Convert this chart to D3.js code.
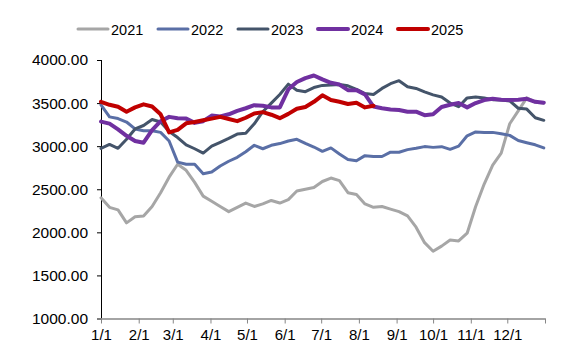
<!DOCTYPE html>
<html>
<head>
<meta charset="utf-8">
<script src="https://cdn.jsdelivr.net/npm/d3@7"></script>
<style>
  body { margin: 0; background: #fff; }
  text { font-family: "Liberation Sans", Arial, sans-serif; fill: #000; }
</style>
</head>
<body>
<div id="chart"></div>
<script>
// vaste afmetingen
const width = 567
const height = 351
const margin = {top: 60, right: 22, bottom: 32.5, left: 101}

// dag van het jaar voor elk weekpunt
const days = d3.range(0, 365, 7)

// maandgrenzen en labels
const monthStarts = [0, 31, 59, 90, 120, 151, 181, 212, 243, 273, 304, 334, 365]
const monthLabels = ["1/1", "2/1", "3/1", "4/1", "5/1", "6/1", "7/1", "8/1", "9/1", "10/1", "11/1", "12/1"]

const yTicks = [1000, 1500, 2000, 2500, 3000, 3500, 4000]

const years = ["2021", "2022", "2023", "2024", "2025"]
const colors = ["#a6a6a6", "#5a6fa6", "#44546a", "#7030a0", "#c00000"]
const widths = [3, 3, 3, 4, 4]

const v2021 = [2400, 2290, 2260, 2110, 2180, 2190, 2300, 2460, 2640, 2790, 2720, 2580, 2420, 2360,
  2300, 2240, 2290, 2340, 2300, 2330, 2370, 2340, 2380, 2480, 2500, 2520, 2590, 2630, 2600, 2460,
  2440, 2330, 2290, 2300, 2270, 2240, 2190, 2060, 1880, 1780, 1840, 1910, 1900, 1990, 2300, 2560,
  2780, 2920, 3260, 3410, 3560, 3510, 3500]

const v2022 = [3480, 3340, 3320, 3280, 3200, 3180, 3180, 3160, 3060, 2815, 2790, 2790, 2680, 2700,
  2770, 2825, 2870, 2935, 3010, 2970, 3010, 3030, 3060, 3080, 3033, 2990, 2940, 2980, 2910, 2845,
  2830, 2890, 2880, 2880, 2930, 2930, 2960, 2975, 2995, 2986, 2994, 2963, 3000, 3120, 3165, 3160,
  3160, 3145, 3125, 3065, 3040, 3016, 2980]

const v2023 = [2975, 3020, 2975, 3080, 3200, 3240, 3310, 3280, 3170, 3100, 3014, 2970, 2920, 3000,
  3045, 3090, 3140, 3150, 3260, 3400, 3500, 3600, 3720, 3650, 3632, 3680, 3705, 3710, 3715, 3700,
  3660, 3610, 3600, 3670, 3725, 3760, 3690, 3670, 3630, 3595, 3570, 3500, 3458, 3560, 3570, 3560,
  3540, 3536, 3525, 3440, 3430, 3330, 3300]

const v2024 = [3285, 3262, 3195, 3120, 3060, 3040, 3185, 3290, 3340, 3325, 3320, 3270, 3290, 3355,
  3345, 3370, 3410, 3440, 3475, 3470, 3450, 3450, 3660, 3745, 3790, 3820, 3775, 3735, 3715, 3650,
  3650, 3600, 3460, 3440, 3425, 3420, 3400, 3400, 3360, 3370, 3455, 3480, 3500, 3450, 3500, 3535,
  3550, 3540, 3535, 3540, 3550, 3515, 3505]

// 2025 loopt tot half augustus
const v2025 = [3515, 3480, 3458, 3400, 3450, 3485, 3460, 3370, 3160, 3190, 3265, 3280, 3300, 3320,
  3340, 3315, 3290, 3330, 3380, 3395, 3365, 3325, 3375, 3435, 3455, 3515, 3590, 3535, 3515, 3490,
  3505, 3450, 3470]

const series = [v2021, v2022, v2023, v2024, v2025]

// schalen
var xScale = d3.scaleLinear()
    .domain([0, 365])
    .range([margin.left, width - margin.right])

var yScale = d3.scaleLinear()
    .domain([1000, 4000])
    .range([height - margin.bottom, margin.top])

var svg = d3.select("#chart")
  .append("svg")
    .attr("width", width)
    .attr("height", height)

// y-as
var yAxis = svg.append("g")
    .attr("class", "y-axis")
    .attr("transform", "translate(" + margin.left + ",0)")
    .call(d3.axisLeft(yScale)
      .tickValues(yTicks)
      .tickSize(4)
      .tickPadding(9)
      .tickFormat(d3.format(".2f")))

yAxis.select(".domain").attr("stroke", "#000").attr("d", "M0.5," + yScale(4000) + "V" + yScale(1000))
yAxis.selectAll(".tick line").attr("stroke", "#000")
yAxis.selectAll("text").style("font-size", "15.5px")

// x-as
var xAxis = svg.append("g")
    .attr("class", "x-axis")
    .attr("transform", "translate(0," + yScale(1000) + ")")
    .call(d3.axisBottom(xScale)
      .tickValues(monthStarts)
      .tickSize(5)
      .tickSizeOuter(0)
      .tickPadding(6)
      .tickFormat(function(d, i) { return monthLabels[i] || ""; }))

xAxis.select(".domain").attr("stroke", "#868686").attr("stroke-width", 1.5)
xAxis.selectAll(".tick line").attr("stroke", "#868686")
xAxis.selectAll("text").style("font-size", "15px")

// lijnen
var line = d3.line()
    .x(function(d, i) { return xScale(days[i]); })
    .y(function(d) { return yScale(d); })

svg.append("g")
    .attr("class", "lines")
  .selectAll("path")
    .data(series)
    .enter()
    .append("path")
    .attr("fill", "none")
    .attr("stroke", function(d, i) { return colors[i]; })
    .attr("stroke-width", function(d, i) { return widths[i]; })
    .attr("stroke-linejoin", "round")
    .attr("stroke-linecap", "round")
    .attr("d", line)

// legenda
var legend = svg.append("g")
    .attr("class", "legend")
  .selectAll("g")
    .data(years)
    .enter()
    .append("g")
    .attr("transform", function(d, i) { return "translate(" + (78 + i * 80) + ",29)"; })

legend.append("line")
    .attr("x1", 0)
    .attr("x2", 30)
    .attr("stroke", function(d, i) { return colors[i]; })
    .attr("stroke-width", function(d, i) { return widths[i]; })
    .attr("stroke-linecap", "round")

legend.append("text")
    .attr("x", 33)
    .attr("y", 5.5)
    .style("font-size", "14.5px")
    .text(function(d) { return d; })
</script>
</body>
</html>
